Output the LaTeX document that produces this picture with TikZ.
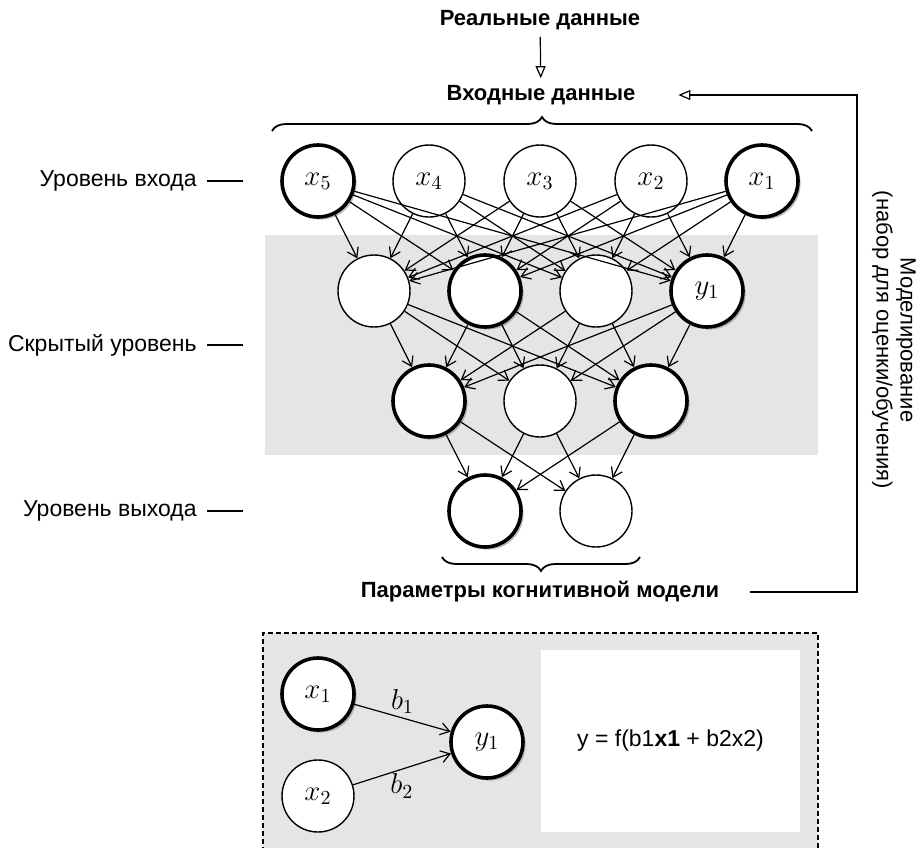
\documentclass[tikz,border=0pt]{standalone}
\usepackage{fontspec}
\setmainfont{Liberation Sans}
\usetikzlibrary{arrows.meta,decorations.pathreplacing,shadows}
\begin{document}
\begin{tikzpicture}[x=0.5pt, y=-0.5pt, >={Straight Barb[length=4.5pt,width=6pt]}, font=\fontsize{11.5}{13}\selectfont,
        neuron/.style={circle, draw, fill=white, line width=0.7pt, minimum size=36pt, inner sep=0pt, font=\fontsize{14}{16}\selectfont},
        boldneuron/.style={neuron, line width=1.8pt, drop shadow={shadow xshift=1.3pt, shadow yshift=-1.3pt, fill=black!45, opacity=0.6}},
        link/.style={->, line width=0.6pt},
        headtext/.style={font=\bfseries\fontsize{11}{13}\selectfont},
        layerlabel/.style={anchor=east, inner sep=0pt},
        openarrow/.style={-{Triangle[open, length=6pt, width=5pt]}, line width=0.6pt}]
        \useasboundingbox (0,0) rectangle (918,848);
        % hidden area and test box
        \fill[black!10] (265,235) rectangle (818,455);
        \fill[black!10] (263,633) rectangle (818,860);
        \draw[dashed, dash pattern=on 2.5pt off 1.5pt, line width=0.6pt] (263,860) -- (263,633) -- (818,633) -- (818,860);
        % headings
        \node[headtext] (real) at (540,20) {Реальные данные};
        \node[headtext] (inp) at (541,95) {Входные данные};
        \node[headtext] (param) at (540,592) {Параметры когнитивной модели};
        \draw[openarrow] (real) -- (inp);
        \coordinate (turnlow) at (857,592);
        \coordinate (turnhigh) at (857,95);
        \draw[openarrow] ([xshift=12pt]param.east) -- (turnlow) -- (turnhigh) -- ([xshift=18pt]inp.east);
        \node[rotate=-90, align=center, font=\fontsize{11}{12}\selectfont] (model) at (894,340) {Моделирование\\(набор для оценки/обучения)};
        \draw[decorate, decoration={brace, amplitude=7pt}, line width=0.9pt] (272,131) -- (812,131);
        \draw[decorate, decoration={brace, amplitude=7pt, mirror}, line width=0.9pt] (442,557) -- (640,557);
        % layer labels
        \coordinate (tickin) at (207,181);
        \coordinate (tickhid) at (207,345);
        \coordinate (tickout) at (207,511);
        \node[layerlabel] (lin) at ([xshift=-5pt]tickin) {Уровень входа};
        \node[layerlabel] (lhid) at ([xshift=-5pt]tickhid) {Скрытый\ уровень};
        \node[layerlabel] (lout) at ([xshift=-5pt]tickout) {Уровень выхода};
        \draw[line width=0.6pt] (tickin) -- ++(36,0);
        \draw[line width=0.6pt] (tickhid) -- ++(36,0);
        \draw[line width=0.6pt] (tickout) -- ++(36,0);
        % network
        \node[boldneuron] (x5) at (318,181) {$x_5$};
        \node[neuron] (x4) at (429,181) {$x_4$};
        \node[neuron] (x3) at (540,181) {$x_3$};
        \node[neuron] (x2) at (651,181) {$x_2$};
        \node[boldneuron] (x1) at (762,181) {$x_1$};
        \node[neuron] (h1) at (374,291) {};
        \node[boldneuron] (h2) at (485,291) {};
        \node[neuron] (h3) at (596,291) {};
        \node[boldneuron] (h4) at (707,291) {$y_1$};
        \node[boldneuron] (g1) at (429,401) {};
        \node[neuron] (g2) at (540,401) {};
        \node[boldneuron] (g3) at (651,401) {};
        \node[boldneuron] (o1) at (485,511) {};
        \node[neuron] (o2) at (596,511) {};
        \foreach \a in {x1,x2,x3,x4,x5}
            \foreach \b in {h1,h2,h3,h4}
                \draw[link] (\a) -- (\b);
        \foreach \a in {h1,h2,h3,h4}
            \foreach \b in {g1,g2,g3}
                \draw[link] (\a) -- (\b);
        \foreach \a in {g1,g2,g3}
            \foreach \b in {o1,o2}
                \draw[link] (\a) -- (\b);
        % single unit
        \node[boldneuron] (bx1) at (318,694) {$x_1$};
        \node[neuron] (bx2) at (318,796) {$x_2$};
        \node[boldneuron] (by1) at (487,742) {$y_1$};
        \draw[link] (bx1) -- node[above, inner sep=2pt, font=\fontsize{14}{16}\selectfont] {$b_1$} (by1);
        \draw[link] (bx2) -- node[below, inner sep=2pt, font=\fontsize{14}{16}\selectfont] {$b_2$} (by1);
        \node[fill=white, minimum width=129.5pt, minimum height=91pt, font=\fontsize{11.5}{13}\selectfont] (formula) at (670.5,741) {y = f(b1\textbf{x1} + b2x2)};
\end{tikzpicture}
\end{document}
